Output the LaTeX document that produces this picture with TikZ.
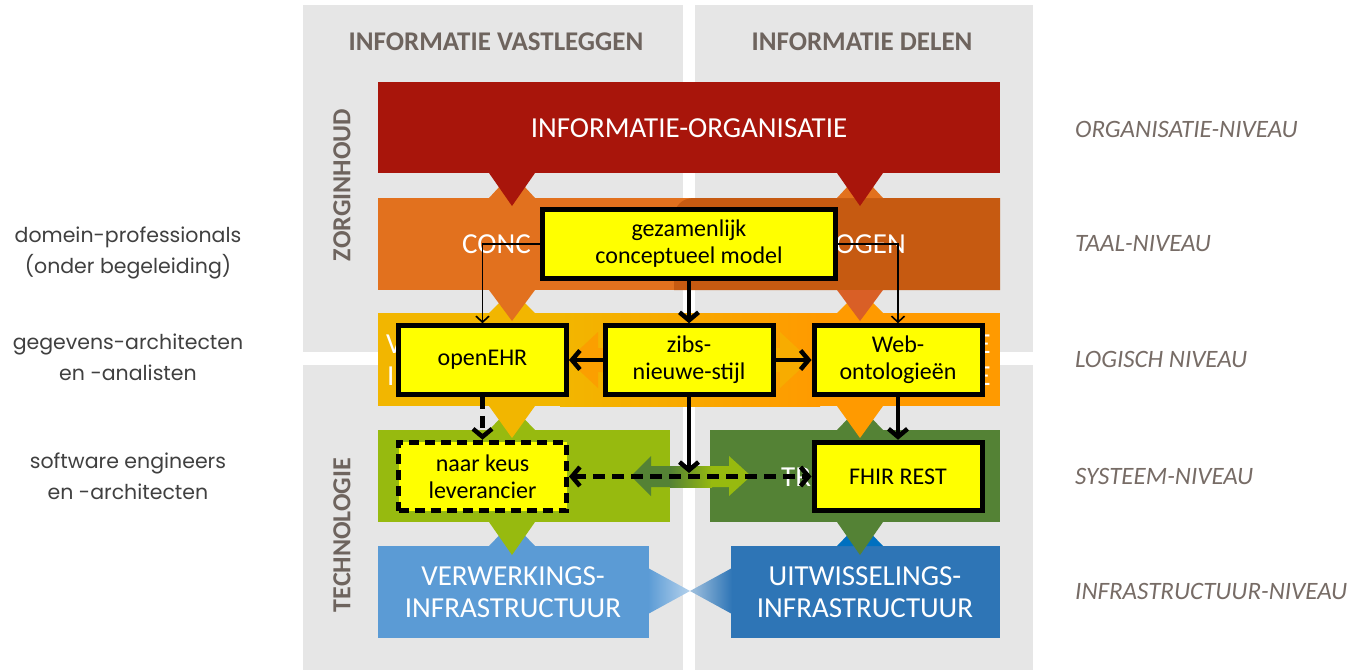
\documentclass[tikz,border=0pt]{standalone}
\usepackage{fontspec}
\setmainfont{Carlito}
\newfontfamily\labfont{Poppins}
\usetikzlibrary{arrows.meta}
\definecolor{panel}{HTML}{E6E6E6}
\definecolor{headc}{HTML}{6E645E}
\definecolor{rlabc}{HTML}{776C66}
\definecolor{llabc}{HTML}{404040}
\definecolor{redA}{HTML}{A8150B}
\definecolor{orgL}{HTML}{E2711E}
\definecolor{orgR}{HTML}{C65A11}
\definecolor{orgT}{HTML}{D95F26}
\definecolor{goldA}{HTML}{F2B600}
\definecolor{orgC}{HTML}{FF9A00}
\definecolor{orgX}{HTML}{FB9F00}
\definecolor{goldX}{HTML}{F7AC00}
\definecolor{grnL}{HTML}{97BA0F}
\definecolor{grnD}{HTML}{548235}
\definecolor{bluL}{HTML}{5B9BD5}
\definecolor{bluD}{HTML}{2E75B6}
\definecolor{bluT}{HTML}{0070C0}
\definecolor{ybg}{HTML}{FFFF00}
\newcommand\myup[4]{\fill[#4] (#1-23,#3) -- (#1+23,#3) -- (#1,#2) -- cycle;}
\newcommand\mydown[4]{\fill[#4] (#1-23,#2) -- (#1+23,#2) -- (#1,#3) -- cycle;}
\begin{document}
\begin{tikzpicture}[x=1pt,y=-1pt,
  ybox/.style={draw=black, line width=5pt, fill=ybg, align=center, text=black,
    font=\fontsize{24}{27}\selectfont, inner sep=0pt, minimum width=168pt, minimum height=68.5pt},
  thickarr/.style={line width=4.5pt, -{Straight Barb[length=8pt,width=19pt]}},
  thinarr/.style={line width=1.6pt, -{Straight Barb[length=6pt,width=13pt]}},
  laytext/.style={text=white, font=\fontsize{29}{32}\selectfont, align=center, inner sep=0pt},
  headtext/.style={text=headc, font=\bfseries\fontsize{27}{30}\selectfont, inner sep=0pt},
  rlab/.style={text=rlabc, font=\itshape\fontsize{25}{30}\selectfont, anchor=west, inner sep=0pt},
  llab/.style={text=llabc, font=\labfont\fontsize{20.5}{31}\selectfont, align=center, inner sep=0pt},
]
\useasboundingbox (0,0) rectangle (1355,670);
\fill[white] (0,0) rectangle (1355,670);
% panels
\fill[panel] (303,5) rectangle (683,352);
\fill[panel] (695,5) rectangle (1033,352);
\fill[panel] (303,365) rectangle (683,670);
\fill[panel] (695,365) rectangle (1033,670);
% headers and side labels
\node[headtext] (h1) at (496,42) {INFORMATIE VASTLEGGEN};
\node[headtext] (h2) at (862,42) {INFORMATIE DELEN};
\node[headtext, rotate=90, font=\bfseries\fontsize{26}{30}\selectfont] (zorg) at (342,185) {ZORGINHOUD};
\node[headtext, rotate=90, font=\bfseries\fontsize{26}{30}\selectfont] (tech) at (342,535) {TECHNOLOGIE};
% right labels
\node[rlab] (r1) at (1075,129) {ORGANISATIE-NIVEAU};
\node[rlab] (r2) at (1075,244) {TAAL-NIVEAU};
\node[rlab] (r3) at (1075,359) {LOGISCH NIVEAU};
\node[rlab] (r4) at (1075,476) {SYSTEEM-NIVEAU};
\node[rlab] (r5) at (1075,591) {INFRASTRUCTUUR-NIVEAU};
% left labels
\node[llab] (p1) at (128,253) {domein-professionals\\(onder begeleiding)};
\node[llab] (p2) at (128,357) {gegevens-architecten\\en -analisten};
\node[llab] (p3) at (128,476) {software engineers\\en -architecten};
% layers
\fill[redA] (378,82) rectangle (1000,173);
\fill[orgL] (378,198) rectangle (1000,290);
\fill[orgR] (1000,198) -- (694,198) .. controls (682,198) and (674,206) .. (674,218) -- (674,290) -- (1000,290) -- cycle;
\fill[goldA] (378,313) rectangle (1000,406);
\shade[left color=goldA, right color=orgC] (560,313) rectangle (820,406);
\fill[orgC] (820,313) rectangle (1000,406);
\fill[grnL] (378,430) rectangle (670,522);
\fill[grnD] (710,430) rectangle (1000,522);
\fill[bluL] (378,546) rectangle (649,638);
\fill[bluD] (731,546) rectangle (1000,638);
% inter-layer pointers
\myup{512}{173}{198}{orgL}
\myup{860}{173}{198}{orgL}
\mydown{512}{173}{206}{redA}
\mydown{860}{173}{206}{redA}
\myup{512}{290}{313}{goldA}
\myup{860}{290}{313}{orgC}
\mydown{512}{290}{321}{orgL}
\mydown{860}{290}{321}{orgT}
\myup{512}{406}{430}{grnL}
\myup{860}{406}{430}{grnD}
\mydown{512}{406}{438}{goldA}
\mydown{860}{406}{438}{orgC}
\myup{512}{522}{546}{bluL}
\myup{860}{522}{546}{bluT}
\mydown{512}{522}{555}{grnL}
\mydown{860}{522}{555}{grnD}
% horizontal double arrow in logical layer
\fill[orgX] (568,360) -- (598,332) -- (598,348) -- (670,348) -- (670,372) -- (598,372) -- (598,388) -- cycle;
\shade[left color=orgX, right color=goldX] (669,348) rectangle (711,372);
\fill[goldX] (710,348) -- (780,348) -- (780,332) -- (810,360) -- (780,388) -- (780,372) -- (710,372) -- cycle;
% green double arrow
\fill[grnD] (631,476) -- (651,456) -- (651,466) -- (671,466) -- (671,487) -- (651,487) -- (651,496) -- cycle;
\shade[left color=grnD, right color=grnL] (670,466) rectangle (712,487);
\fill[grnL] (711,466) -- (729,466) -- (729,456) -- (751,476) -- (729,496) -- (729,487) -- (711,487) -- cycle;
% blue bowtie
\shade[left color=bluL, right color=bluL!45!white] (648,568) -- (690,591) -- (648,614) -- cycle;
\shade[left color=bluD!45!white, right color=bluD] (732,568) -- (690,591) -- (732,614) -- cycle;
% layer texts
\node[laytext] (t1) at (689,128) {INFORMATIE-ORGANISATIE};
\node[laytext, anchor=west] (t2a) at (462,244) {CONC};
\node[laytext, anchor=east] (t2b) at (906,244) {OGEN};
\node[laytext, anchor=west] (t3a) at (386,344) {V};
\node[laytext, anchor=west] (t3b) at (387,376) {I};
\node[laytext, anchor=east] (t3c) at (991,344) {E};
\node[laytext, anchor=east] (t3d) at (991,376) {E};
\node[laytext, anchor=west] (t4) at (781,477) {TR};
\node[laytext] (t5a) at (513,592) {VERWERKINGS-\\INFRASTRUCTUUR};
\node[laytext] (t5b) at (865,592) {UITWISSELINGS-\\INFRASTRUCTUUR};
% yellow boxes
\node[ybox, minimum width=293pt] (gez) at (689,244) {gezamenlijk\\conceptueel model};
\node[ybox] (open) at (482.5,360) {openEHR};
\node[ybox] (zibs) at (689,360) {zibs-\\nieuwe-stijl};
\node[ybox] (web) at (898,360) {Web-\\ontologieën};
\node[ybox, dashed, dash pattern=on 10pt off 6pt] (keus) at (482.5,476.5) {naar keus\\leverancier};
\node[ybox] (fhir) at (898,476.5) {FHIR REST};
% connectors
\draw[thinarr] (gez.west) -| (open.north);
\draw[thinarr] (gez.east) -| (web.north);
\draw[thickarr] (gez.south) -- (zibs.north);
\draw[thickarr] (zibs.west) -- (open.east);
\draw[thickarr] (zibs.east) -- (web.west);
\draw[thickarr, dash pattern=on 12pt off 7pt] (open.south) -- (keus.north);
\draw[thickarr] (web.south) -- (fhir.north);
\coordinate (junc) at (689,473);
\draw[thickarr] (zibs.south) -- (junc);
\draw[line width=4.5pt, dash pattern=on 12pt off 7pt, {Straight Barb[length=8pt,width=19pt]}-{Straight Barb[length=8pt,width=19pt]}] (keus.east) -- (fhir.west);
\end{tikzpicture}
\end{document}
